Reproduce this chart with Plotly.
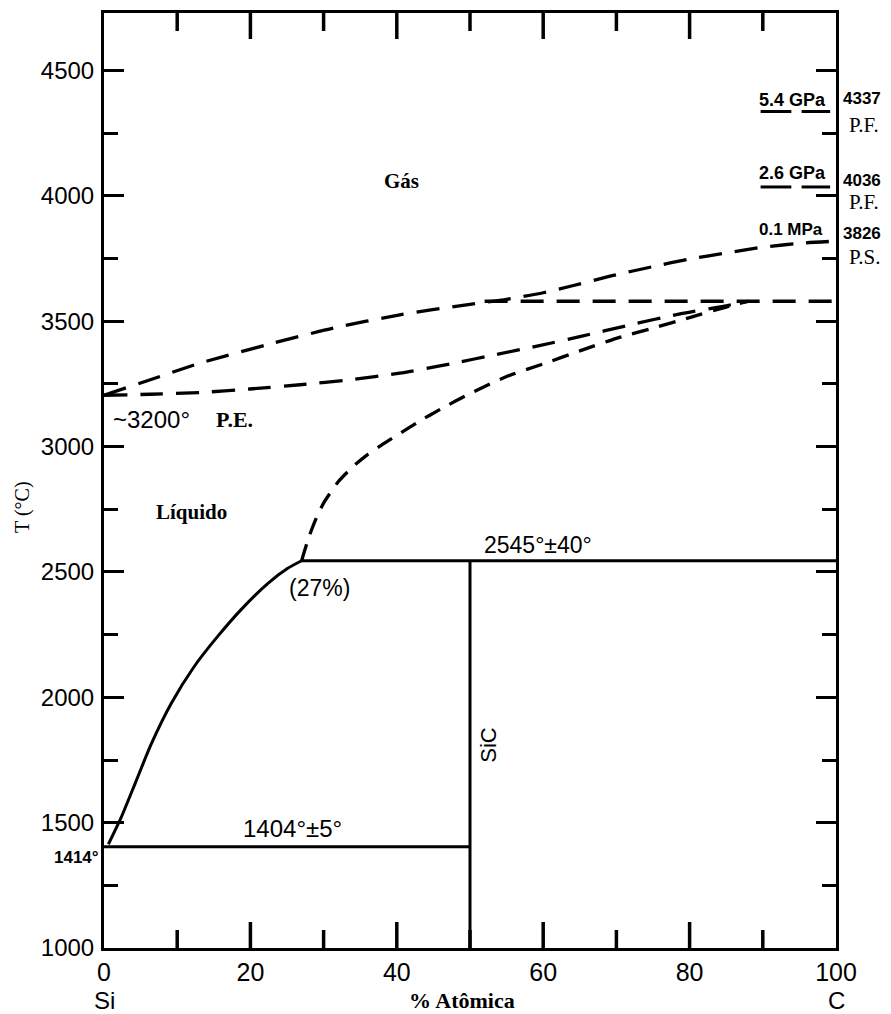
import plotly.graph_objects as go

# ---------------- data ----------------
# Si-rich liquidus (solid)
liq_si_x = [0.6, 2.3, 4.3, 6.4, 9.2, 12.3, 15.5, 18.7, 22.4, 25.1, 27.0]
liq_si_t = [1414, 1518, 1660, 1810, 1976, 2122, 2242, 2349, 2455, 2515, 2545]

# SiC liquidus (dashed)
liq_c_x = [27.0, 28.0, 29.0, 30.0, 32.0, 34.0, 36.0, 38.0, 40.0, 43.0, 46.0, 50.0,
           55.0, 60.0, 65.0, 70.0, 75.0, 80.0, 85.0, 88.0]
liq_c_t = [2545, 2640, 2715, 2775, 2860, 2920, 2968, 3008, 3045, 3100, 3150, 3212,
           3280, 3330, 3382, 3432, 3473, 3515, 3557, 3580]

# lower liquid/gas boundary (dashed)
gas_low_x = [0.0, 6.3, 13.1, 19.9, 26.8, 33.6, 40.4, 47.3, 53.6, 59.0, 65.0, 71.9, 78.7, 84.2, 88.0]
gas_low_t = [3205, 3209, 3216, 3230, 3247, 3267, 3293, 3330, 3368, 3400, 3439, 3486, 3530, 3558, 3580]

# upper gas boundary at 0.1 MPa (dashed)
gas_up_x = [0.0, 4.9, 13.1, 22.2, 31.3, 40.4, 49.5, 55.0, 60.0, 64.0, 69.4, 74.8, 79.9, 84.9, 90.3, 95.8, 100.0]
gas_up_t = [3205, 3253, 3333, 3406, 3473, 3526, 3566, 3588, 3614, 3642, 3682, 3717, 3748, 3772, 3797, 3813, 3820]

# invariant lines
peritectic_x = [52.0, 100.0]
peritectic_t = [3580, 3580]
eutectic_hi_x = [27.0, 100.0]
eutectic_hi_t = [2545, 2545]
eutectic_lo_x = [0.0, 50.0]
eutectic_lo_t = [1404, 1404]
sic_x = [50.0, 50.0]
sic_t = [1000, 2545]

# high pressure melting marks
gpa_x1 = [89.7, 93.9]
gpa_x2 = [95.3, 99.2]
gpa54_t = [4337, 4337]
gpa26_t = [4036, 4036]

x_ticks = [0, 20, 40, 60, 80, 100]
x_major_marks = [20, 40, 60, 80]
x_minor_marks = [10, 30, 50, 70, 90]
y_ticks = [1000, 1500, 2000, 2500, 3000, 3500, 4000, 4500]

SANS = "Liberation Sans, Arial, sans-serif"
SERIF = "Liberation Serif, Times New Roman, serif"

fig = go.Figure()

def add_line(x, y, dash="solid", shape="linear", width=3):
    fig.add_trace(go.Scatter(x=x, y=y, mode="lines",
                             line=dict(color="black", width=width, dash=dash,
                                       shape=shape, smoothing=0.6),
                             hoverinfo="skip", showlegend=False))

add_line(liq_si_x, liq_si_t, shape="spline")
add_line(liq_c_x, liq_c_t, dash="17px,11px", shape="spline", width=3.3)
add_line(gas_low_x, gas_low_t, dash="23px,13px", shape="spline", width=3.3)
add_line(gas_up_x, gas_up_t, dash="23px,13px", shape="spline", width=3.3)
add_line(peritectic_x, peritectic_t, dash="23px,13px", width=3.3)
add_line(eutectic_hi_x, eutectic_hi_t)
add_line(eutectic_lo_x, eutectic_lo_t)
add_line(sic_x, sic_t)
add_line(gpa_x1, gpa54_t)
add_line(gpa_x2, gpa54_t)
add_line(gpa_x1, gpa26_t)
add_line(gpa_x2, gpa26_t)

# x-axis tick marks (inside, bottom and mirrored on top), placed on the x axis scale
shapes = []
for xv, ln in [(v, 26) for v in x_major_marks] + [(v, 18) for v in x_minor_marks]:
    shapes.append(dict(type="line", xref="x", yref="paper", ysizemode="pixel",
                       yanchor=0, x0=xv, x1=xv, y0=0, y1=ln,
                       line=dict(color="black", width=3.5)))
    shapes.append(dict(type="line", xref="x", yref="paper", ysizemode="pixel",
                       yanchor=1, x0=xv, x1=xv, y0=0, y1=-ln,
                       line=dict(color="black", width=3.5)))

ann = []
def text(x, y, s, size, family=SANS, xref="x", yref="y", xanchor="center",
         yanchor="middle", angle=0):
    ann.append(dict(x=x, y=y, xref=xref, yref=yref, text=s, showarrow=False,
                    xanchor=xanchor, yanchor=yanchor, textangle=angle,
                    font=dict(family=family, size=size, color="black")))

text(40.6, 4061, "<b>Gás</b>", 21, SERIF)
text(12.0, 2741, "<b>Líquido</b>", 21, SERIF)
text(0.9, 3107, "~3200°", 24, SANS, xanchor="left")
text(20.6, 3107, "<b>P.E.</b>", 22, SERIF, xanchor="right")
text(29.4, 2437, "(27%)", 23)
text(59.3, 2608, "2545°±40°", 23)
text(25.8, 1475, "1404°±5°", 24)
text(52.5, 1812, "SiC", 22, angle=-90)
text(93.8, 3868, "<b>0.1 MPa</b>", 17)
text(94.1, 4384, "<b>5.4 GPa</b>", 18)
text(94.1, 4092, "<b>2.6 GPa</b>", 18)

# right margin labels
text(1.0068, 4388, "<b>4337</b>", 17, xref="paper", xanchor="left")
text(1.0150, 4285, "P.F.", 21, SERIF, xref="paper", xanchor="left")
text(1.0068, 4062, "<b>4036</b>", 17, xref="paper", xanchor="left")
text(1.0150, 3978, "P.F.", 21, SERIF, xref="paper", xanchor="left")
text(1.0068, 3849, "<b>3826</b>", 17, xref="paper", xanchor="left")
text(1.0150, 3755, "P.S.", 21, SERIF, xref="paper", xanchor="left")

# left extra label
text(-0.004, 1363, "<b>1414°</b>", 17, xref="paper", xanchor="right")

# axis captions
text(0.0, -0.0566, "Si", 24, xref="paper", yref="paper")
text(1.0, -0.0566, "C", 24, xref="paper", yref="paper")
text(0.489, -0.0566, "<b>% Atômica</b>", 22, SERIF, xref="paper", yref="paper")
text(-0.1107, 0.4717, "T (°C)", 20, SERIF, xref="paper", yref="paper", angle=-90)

fig.update_layout(
    width=891, height=1014,
    margin=dict(l=104, r=55, t=13, b=66, autoexpand=False),
    paper_bgcolor="white", plot_bgcolor="white",
    showlegend=False,
    annotations=ann,
    shapes=shapes,
    xaxis=dict(range=[0, 100], tickvals=x_ticks, ticktext=[str(v) for v in x_ticks],
               showgrid=False, zeroline=False, showline=True, linecolor="black",
               linewidth=3, mirror=True, ticks="",
               tickfont=dict(family=SANS, size=25, color="black")),
    yaxis=dict(range=[1000, 4730], tickvals=y_ticks, ticktext=[str(v) for v in y_ticks],
               showgrid=False, zeroline=False, showline=True, linecolor="black",
               linewidth=3, mirror="ticks", ticks="inside", ticklen=20, tickwidth=3,
               tickcolor="black", ticklabelstandoff=2,
               tickfont=dict(family=SANS, size=24, color="black"),
               minor=dict(dtick=250, tick0=1000, ticks="inside", ticklen=14, tickwidth=3,
                          tickcolor="black", showgrid=False)),
)

fig.write_html("out.html")
